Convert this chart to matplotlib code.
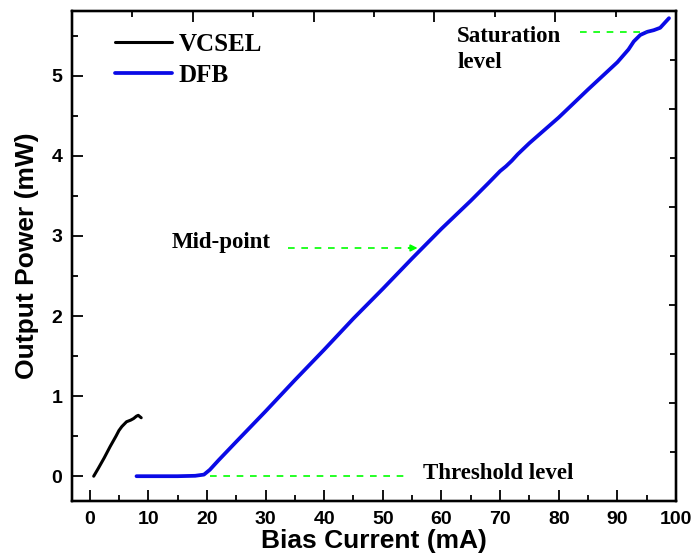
import numpy as np
import matplotlib
matplotlib.use("Agg")
import matplotlib.pyplot as plt
from matplotlib.ticker import MultipleLocator, NullFormatter

# curves
vcsel_current = [0.7, 1.5, 2.5, 3.5, 4.5, 5.0, 5.5, 6.3, 7.0, 7.5, 8.0, 8.3, 8.8]
vcsel_power = [0.0, 0.10, 0.23, 0.37, 0.50, 0.57, 0.62, 0.68, 0.70, 0.72, 0.75, 0.76, 0.73]

dfb_current = [8, 12, 15, 18, 19.5, 20.5, 22, 25, 30, 35, 40, 45, 50, 55, 60, 65,
               68, 70, 71, 72, 73, 74, 75, 80, 85, 90, 91.9, 92.8, 93.9, 95.1, 96.2,
               97.3, 98.8]
dfb_power = [0.0, 0.0, 0.0, 0.005, 0.02, 0.08, 0.20, 0.43, 0.81, 1.20, 1.58, 1.97,
             2.34, 2.72, 3.09, 3.44, 3.66, 3.81, 3.87, 3.94, 4.02, 4.09, 4.16, 4.48,
             4.83, 5.17, 5.33, 5.43, 5.51, 5.55, 5.57, 5.60, 5.72]

threshold_x = [20.5, 54.3]
threshold_y = 0.0
saturation_x = [83.7, 95.1]
saturation_y = 5.55
midpoint_x = [33.8, 56.4]
midpoint_y = 2.85

sans = "Liberation Sans"
serif = "Liberation Serif"
green = "#00ff00"

fig = plt.figure(figsize=(6.95, 5.57), dpi=100)
ax = fig.add_axes([0.1036, 0.1005, 0.8691, 0.8798])

ax.plot(vcsel_current, vcsel_power, color="black", lw=2.2, label="VCSEL",
        solid_capstyle="round")
ax.plot(dfb_current, dfb_power, color="#0a0ae6", lw=2.7, label="DFB",
        solid_capstyle="round")

# annotation guides
ax.plot(threshold_x, [threshold_y] * 2, color=green, lw=1.2, ls=(0, (4, 4)))
ax.plot(saturation_x, [saturation_y] * 2, color=green, lw=1.2, ls=(0, (4, 4)))
ax.plot([midpoint_x[0], midpoint_x[1] - 1.5], [midpoint_y] * 2, color=green,
        lw=1.2, ls=(0, (4, 4)))
ax.annotate("", xy=(midpoint_x[1], midpoint_y), xytext=(midpoint_x[1] - 2.5, midpoint_y),
            arrowprops=dict(arrowstyle="-|>", color=green, lw=1.2,
                            mutation_scale=10))

ax.text(56.9, 0.03, "Threshold level", fontfamily=serif, fontweight="bold",
        fontsize=16.5, va="center", ha="left")
ax.text(14.0, 2.92, "Mid-point", fontfamily=serif, fontweight="bold",
        fontsize=16.5, va="center", ha="left")
ax.text(62.7, 5.1, "Saturation\nlevel", fontfamily=serif, fontweight="bold",
        fontsize=16.5, va="baseline", ha="left", linespacing=1.3)

ax.set_xlim(-3, 100)
ax.set_ylim(-0.31, 5.81)
ax.xaxis.set_major_locator(MultipleLocator(10))
ax.xaxis.set_minor_locator(MultipleLocator(5))
ax.yaxis.set_major_locator(MultipleLocator(1))
ax.yaxis.set_minor_locator(MultipleLocator(0.5))
ax.tick_params(which="major", direction="in", length=8, width=1.3, pad=7)
ax.tick_params(which="minor", direction="in", length=4, width=1.3)
for lab in ax.get_xticklabels() + ax.get_yticklabels():
    lab.set_fontfamily(sans)
    lab.set_fontweight("bold")
    lab.set_fontsize(14)

ax.set_xlabel("Bias Current (mA)", fontfamily=sans, fontweight="bold",
              fontsize=19, labelpad=1)
ax.set_ylabel("Output Power (mW)", fontfamily=sans, fontweight="bold",
              fontsize=19, labelpad=9)

for sp in ax.spines.values():
    sp.set_linewidth(1.6)

leg = ax.legend(loc="upper left", bbox_to_anchor=(0.071, 0.955), frameon=False,
                borderpad=0, borderaxespad=0, handlelength=2.3, handletextpad=0.25,
                labelspacing=0.3, prop=dict(family=serif, weight="bold", size=18))

# top and right axes carry their own unlabelled tick scales
top = ax.twiny()
top.set_xlim(0, 100)
top.xaxis.set_major_locator(MultipleLocator(20))
top.xaxis.set_minor_locator(MultipleLocator(10))
top.xaxis.set_major_formatter(NullFormatter())
top.tick_params(which="major", direction="in", length=8, width=1.3)
top.tick_params(which="minor", direction="in", length=4, width=1.3)

right = ax.twinx()
right.set_ylim(0, 10)
right.yaxis.set_major_locator(MultipleLocator(2))
right.yaxis.set_minor_locator(MultipleLocator(1))
right.yaxis.set_major_formatter(NullFormatter())
right.tick_params(which="major", direction="in", length=5, width=1.3)
right.tick_params(which="minor", direction="in", length=4, width=1.3)

for t in (top, right):
    for sp in t.spines.values():
        sp.set_linewidth(1.6)

fig.savefig("out.png", dpi=100)
